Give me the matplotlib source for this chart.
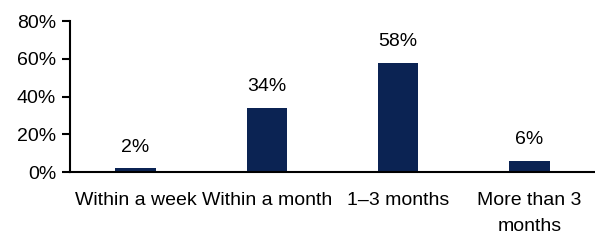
import matplotlib
matplotlib.use("Agg")
from matplotlib import pyplot as plt
from matplotlib.ticker import PercentFormatter

categories = ["Within a week", "Within a month", "1\u20133 months", "More than 3\nmonths"]
values = [0.02, 0.34, 0.58, 0.06]
labels = ["2%", "34%", "58%", "6%"]
yticks = [0, 0.2, 0.4, 0.6, 0.8]


def main():
    plt.rcParams["font.family"] = ["Liberation Sans", "DejaVu Sans"]
    fig = plt.figure(figsize=(5.95, 2.4), dpi=100)
    ax = fig.add_axes([70 / 595, 0.283, 1 - 70 / 595, 0.6295])

    x = range(len(categories))
    bars = ax.bar(x, values, width=0.31, color="#0b2353")
    for b, lab in zip(bars, labels):
        ax.annotate(lab, (b.get_x() + b.get_width() / 2, b.get_height()),
                    xytext=(0, 9), textcoords="offset points",
                    ha="center", va="bottom", fontsize=14)

    ax.set_xlim(-0.5, len(categories) - 0.5)
    ax.set_ylim(0, 0.8)
    ax.set_yticks(yticks)
    ax.yaxis.set_major_formatter(PercentFormatter(1.0, decimals=0))
    ax.set_xticks(list(x))
    ax.set_xticklabels(categories, fontsize=14, linespacing=1.75)
    ax.tick_params(axis="x", length=0, pad=14)
    ax.tick_params(axis="y", length=6, width=1.5, labelsize=14, pad=4)

    for s in ["top", "right"]:
        ax.spines[s].set_visible(False)
    ax.spines["left"].set_linewidth(1.5)
    ax.spines["bottom"].set_linewidth(1.5)

    fig.savefig("out.png", dpi=100)


if __name__ == "__main__":
    main()
